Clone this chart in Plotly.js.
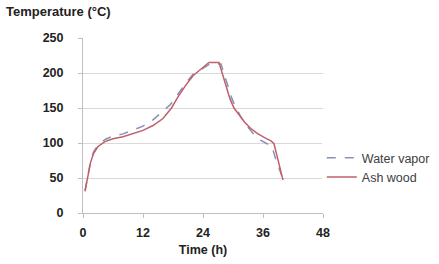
<!DOCTYPE html>
<html><head><meta charset="utf-8">
<script src="https://cdn.plot.ly/plotly-3.0.1.min.js"></script>
<style>html,body{margin:0;padding:0;background:#fff}#c{width:439px;height:264px}</style>
</head><body><div id="c"></div>
<script>
var waterT = [0.4,0.9,1.5,2.1,3,4.4,6,8,10,12,14,15.5,16.7,17.5,19,20.5,22,23.5,25.4,27.6,28.2,29,29.8,30.6,31.6,32.7,34,35.5,36.8,37.7,38.5,40];
var waterY = [32,52,73,87,97,105,110,113,118,124,133,142,150,155,170,185,198,205,213,213,200,180,163,150,137,125,114,104,99,97,78,48];
var ashT = [0.4,0.9,1.5,2.1,3,4.4,6,8,10,12,14,16,17.7,19,20.5,22,23.5,25.2,27.2,27.8,28.6,29.4,30.2,31.2,32.3,33.5,35,36.5,37.6,38.2,39,40];
var ashY = [31,50,72,85,95,102,106,109,113,118,125,135,150,166,182,196,205,215,215,200,180,163,150,140,130,121,113,107,103,99,76,47];
var xTicks = [0,12,24,36,48];
var yTicks = [0,50,100,150,200,250];

var font = 'Liberation Sans, Arial, sans-serif';
var traces = [
  {x: waterT, y: waterY, name: 'Water vapor', mode: 'lines', line: {color: '#8593b3', width: 1.5, dash: 'dash'}},
  {x: ashT, y: ashY, name: 'Ash wood', mode: 'lines', line: {color: '#c0606a', width: 1.5}}
];
var layout = {
  width: 439, height: 264,
  margin: {l: 83, r: 116, t: 38, b: 51, autoexpand: false},
  paper_bgcolor: '#fff', plot_bgcolor: '#fff',
  showlegend: true,
  legend: {x: 0.995, y: 0.26, xanchor: 'left', yanchor: 'middle', font: {family: font, size: 12.5, color: '#404040'}, itemwidth: 30},
  xaxis: {range: [0, 48], tickvals: xTicks, ticktext: xTicks.map(String), showgrid: false, zeroline: false,
    showline: true, linecolor: '#bfbfbf', linewidth: 1, ticks: 'outside', ticklen: 4, tickcolor: '#bfbfbf',
    tickfont: {family: font, size: 12.5, color: '#222', weight: 'bold'}, ticklabelstandoff: 4,
    title: {text: 'Time (h)', font: {family: font, size: 12.5, color: '#222', weight: 'bold'}, standoff: 6}},
  yaxis: {range: [0, 250], tickvals: yTicks, ticktext: yTicks.map(String), showgrid: true, gridcolor: '#d9d9d9', zeroline: false,
    showline: true, linecolor: '#bfbfbf', linewidth: 1, ticks: 'outside', ticklen: 4, tickcolor: '#bfbfbf',
    tickfont: {family: font, size: 12.5, color: '#222', weight: 'bold'}, ticklabelstandoff: 12},
  annotations: [{text: 'Temperature (°C)', xref: 'paper', yref: 'paper', x: -0.33, y: 1.15, xanchor: 'left', yanchor: 'middle', showarrow: false,
    font: {family: font, size: 13, color: '#222', weight: 'bold'}}]
};
Plotly.newPlot('c', traces, layout, {staticPlot: true});
</script></body></html>
